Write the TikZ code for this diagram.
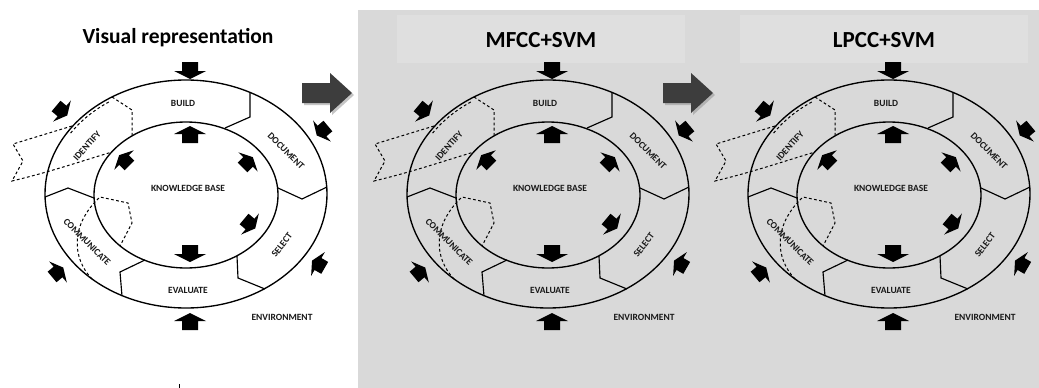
\documentclass[tikz,border=0pt]{standalone}
\usepackage{fontspec}
\newfontfamily\titlefont{Carlito}
\newfontfamily\labfont{Carlito}
\definecolor{bg}{gray}{0.85}
\definecolor{tb}{gray}{0.875}
\definecolor{bigarrowc}{gray}{0.24}
\tikzset{
  ring/.style={line width=1.35pt},
  divider/.style={line width=1.15pt,line join=miter},
  dsh/.style={line width=1pt,dash pattern=on 2.8pt off 2.4pt},
  lab/.style={font=\labfont\bfseries\fontsize{9.5}{9.5}\selectfont, text=black!90, inner sep=0pt},
  ttl/.style={font=\titlefont\bfseries\fontsize{21.5}{21.5}\selectfont, inner sep=0pt},
  ttlb/.style={font=\titlefont\bfseries\fontsize{23}{23}\selectfont, inner sep=0pt},
  barrow/.pic={\fill (-9,-8) -- (0,-8) -- (0,-16) -- (8,0) -- (0,16) -- (0,8) -- (-9,8) -- cycle;},
  bigarr/.pic={
    \fill[black!45,opacity=0.5] (2,-8) -- (30,-8) -- (30,-18) -- (52,2) -- (30,22) -- (30,12) -- (2,12) -- cycle;
    \fill[bigarrowc] (0,-10) -- (28,-10) -- (28,-20) -- (50,0) -- (28,20) -- (28,10) -- (0,10) -- cycle;},
  kbcycle/.pic={
    \draw[ring] (186,194) ellipse[x radius=141,y radius=114];
    \draw[ring] (186,195) ellipse[x radius=92,y radius=73];
    \draw[divider] (250,92) -- (250,117) -- (225,128);
    \draw[divider] (278,188) -- (302,199) -- (327,187);
    \draw[divider] (237,256) -- (238,278) -- (265,289);
    \draw[divider] (145,260) -- (120,272) -- (122,296);
    \draw[divider] (45,197) -- (68,188) -- (94,198);
    % dashed extensions
    \draw[dsh] (112,97) -- (132,110) -- (132,136);
    \draw[dsh] (186,194) ++(-124:138 and 111) arc[start angle=-124,end angle=-147,x radius=138,y radius=111];
    \draw[dsh] (72,126) -- (13,144) -- (23,161) -- (12,181) .. controls (50,172) and (85,160) .. (112,152);
    \draw[dsh] (92,279) .. controls (72,258) and (70,225) .. (100,197) -- (128,203) -- (132,223) -- (120,246);
    % outer arrows
    \pic[rotate=-90] at (190,71) {barrow};
    \pic[rotate=-40,scale=0.86] at (62,111) {barrow};
    \pic[rotate=-140,scale=0.86] at (322,131) {barrow};
    \pic[rotate=150,scale=0.86] at (318,264) {barrow};
    \pic[rotate=90] at (190,321) {barrow};
    \pic[rotate=40,scale=0.86] at (58,272) {barrow};
    % inner arrows
    \pic[rotate=90] at (190,134) {barrow};
    \pic[rotate=135,scale=0.86] at (124,160) {barrow};
    \pic[rotate=45,scale=0.86] at (248,162) {barrow};
    \pic[rotate=-40,scale=0.86] at (250,224) {barrow};
    \pic[rotate=-90] at (190,254) {barrow};
    % labels
    \node[lab] (-build) at (183,103) {BUILD};
    \node[lab,rotate=-45] (-document) at (286,151) {DOCUMENT};
    \node[lab,rotate=48] (-identify) at (87,146) {IDENTIFY};
    \node[lab] (-kb) at (188,188) {KNOWLEDGE BASE};
    \node[lab,rotate=-45] (-communicate) at (87,242) {COMMUNICATE};
    \node[lab,rotate=52] (-select) at (282,245) {SELECT};
    \node[lab] (-evaluate) at (188,290) {EVALUATE};
    \node[lab] (-environment) at (282,317) {ENVIRONMENT};
  }
}
\begin{document}
\begin{tikzpicture}[x=1pt,y=-1pt]
\useasboundingbox (0,0) rectangle (1039,388);
\fill[white] (0,0) rectangle (1039,388);
\fill[bg] (358,10) rectangle (1039,388);
\fill[tb] (397,15) rectangle (685,63);
\fill[tb] (740,15) rectangle (1028,63);
\node[ttl] (t1) at (178,38) {Visual representation};
\node[ttlb] (t2) at (541,40) {MFCC+SVM};
\node[ttlb] (t3) at (884,40) {LPCC+SVM};
\pic (p1) at (0,0) {kbcycle};
\pic (p2) at (362,0) {kbcycle};
\pic (p3) at (703,0) {kbcycle};
\pic at (302,93) {bigarr};
\pic at (663,93) {bigarr};
\draw[line width=0.6pt] (179,384) -- (179,388);
\end{tikzpicture}
\end{document}
